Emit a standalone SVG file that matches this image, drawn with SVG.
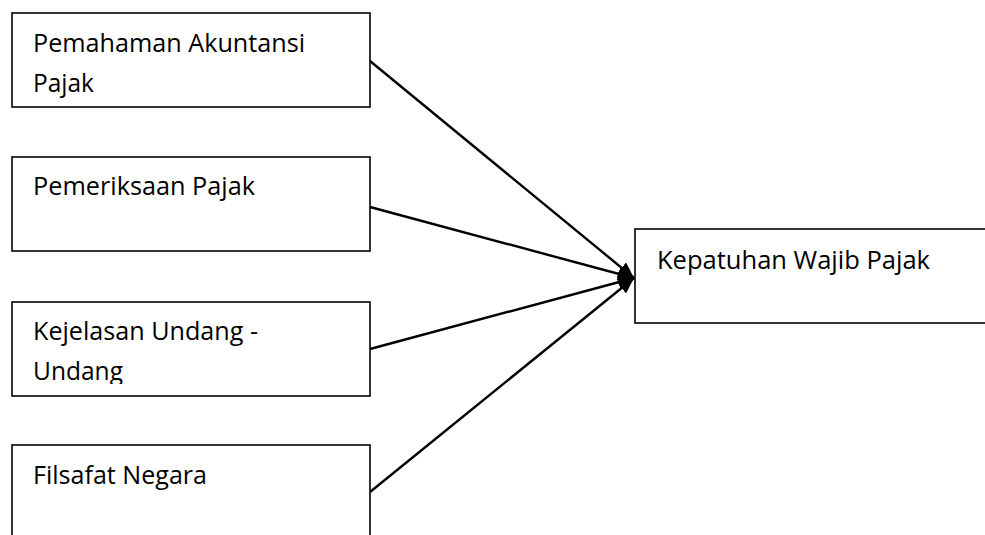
<svg xmlns="http://www.w3.org/2000/svg" width="985" height="535" viewBox="0 0 985 535">
<style>
.box{fill:#fff;stroke:#000;stroke-width:1.6}
.t{font-family:"Open Sans","Noto Sans",sans-serif;font-size:25px;fill:#000}
.c{stroke:#000;stroke-width:2.4;fill:none;marker-end:url(#ah)}
</style>
<defs>
<marker id="ah" markerUnits="userSpaceOnUse" markerWidth="20" markerHeight="14" refX="16" refY="7" orient="auto">
<path d="M0,0 L16,7 L0,14 Z" fill="#000"/>
</marker>
<clipPath id="cl3"><rect x="12" y="302" width="358" height="82"/></clipPath>
</defs>
<rect width="985" height="535" fill="#fff"/>
<g id="connectors">
<line class="c" x1="370" y1="61" x2="634" y2="278"/>
<line class="c" x1="370" y1="207" x2="634" y2="278"/>
<line class="c" x1="370" y1="349" x2="634" y2="278"/>
<line class="c" x1="370" y1="492" x2="634" y2="278"/>
</g>
<g id="n1">
<rect class="box" x="12" y="13" width="358" height="94"/>
<text class="t" x="33" y="52" textLength="272" lengthAdjust="spacingAndGlyphs">Pemahaman Akuntansi</text>
<text class="t" x="33" y="92" textLength="61" lengthAdjust="spacingAndGlyphs">Pajak</text>
</g>
<g id="n2">
<rect class="box" x="12" y="157" width="358" height="94"/>
<text class="t" x="33" y="195" textLength="222" lengthAdjust="spacingAndGlyphs">Pemeriksaan Pajak</text>
</g>
<g id="n3">
<rect class="box" x="12" y="302" width="358" height="94"/>
<g clip-path="url(#cl3)">
<text class="t" x="33" y="340" textLength="225" lengthAdjust="spacingAndGlyphs">Kejelasan Undang -</text>
<text class="t" x="33" y="380" textLength="90" lengthAdjust="spacingAndGlyphs">Undang</text>
</g>
</g>
<g id="n4">
<rect class="box" x="12" y="445" width="358" height="100"/>
<text class="t" x="33" y="484" textLength="174" lengthAdjust="spacingAndGlyphs">Filsafat Negara</text>
</g>
<g id="n5">
<rect class="box" x="635" y="229" width="360" height="94"/>
<text class="t" x="657" y="269" textLength="273" lengthAdjust="spacingAndGlyphs">Kepatuhan Wajib Pajak</text>
</g>
</svg>
